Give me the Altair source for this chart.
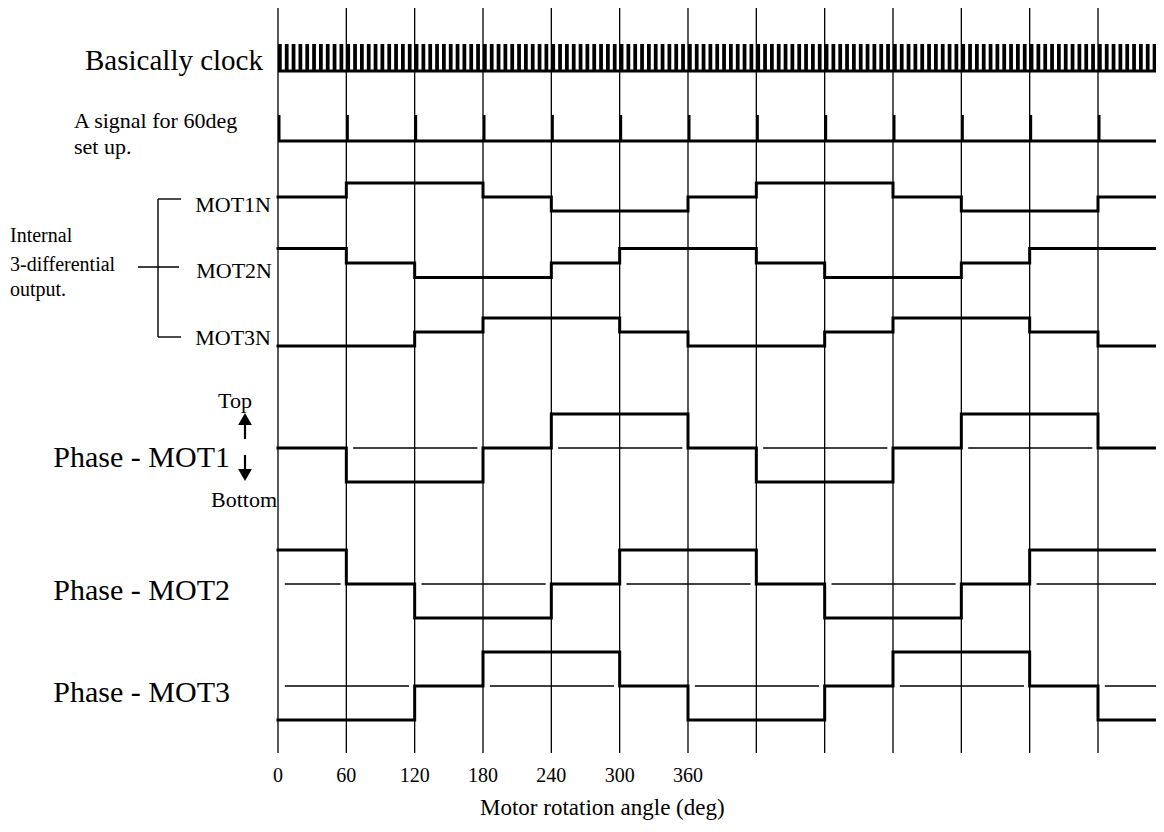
import altair as alt
import pandas as pd

# ---------------- data ----------------
segment_start_deg = [0, 60, 120, 180, 240, 300, 360, 420, 480, 540, 600, 660, 720]
end_deg = 778
# levels per 60-degree segment: 1 = top, 0 = middle, -1 = bottom
mot1n = [0, 1, 1, 0, -1, -1, 0, 1, 1, 0, -1, -1, 0]
mot2n = [1, 0, -1, -1, 0, 1, 1, 0, -1, -1, 0, 1, 1]
mot3n = [-1, -1, 0, 1, 1, 0, -1, -1, 0, 1, 1, 0, -1]
phase_mot1 = [0, -1, -1, 0, 1, 1, 0, -1, -1, 0, 1, 1, 0]
phase_mot2 = [1, 0, -1, -1, 0, 1, 1, 0, -1, -1, 0, 1, 1]
phase_mot3 = [-1, -1, 0, 1, 1, 0, -1, -1, 0, 1, 1, 0, -1]
setup_pulse_deg = [0, 60, 120, 180, 240, 300, 360, 420, 480, 540, 600, 660, 720]
clock_pulses_per_60deg = 10
tick_labels = [0, 60, 120, 180, 240, 300, 360]

# ---------------- layout ----------------
W, H = 1148, 812
K = 820 / 720.0  # px per degree


def deg(px):
    return (px - 278) / K


xs = alt.Scale(domain=[deg(8), deg(8 + W)], nice=False, zero=False)
ys = alt.Scale(domain=[8, 8 + H], reverse=True, nice=False, zero=False)
FONT = "Liberation Serif"

tracks = {
    "MOT1N": (mot1n, 197, 14),
    "MOT2N": (mot2n, 263, 14.5),
    "MOT3N": (mot3n, 332, 14),
    "Phase - MOT1": (phase_mot1, 448, 34),
    "Phase - MOT2": (phase_mot2, 584, 34),
    "Phase - MOT3": (phase_mot3, 686, 34),
}

rows = []
thin = []
for name, (levels, center, amp) in tracks.items():
    for s, lv in zip(segment_start_deg, levels):
        rows.append({"sig": name, "x": s, "y": center - lv * amp})
    rows.append({"sig": name, "x": end_deg, "y": center - levels[-1] * amp})
    if name.startswith("Phase"):
        # thin middle reference line where signal is off-centre
        i = 0
        n = len(levels)
        while i < n:
            if levels[i] != 0:
                j = i
                while j < n and levels[j] != 0:
                    j += 1
                s = segment_start_deg[i]
                e = segment_start_deg[j] if j < n else end_deg + 3
                thin.append({"x": s + 6, "x2": e - 5, "y": center, "y2": center})
                i = j
            else:
                i += 1
sig_df = pd.DataFrame(rows)
thin_df = pd.DataFrame(thin)


def X(f="x"):
    return alt.X(f"{f}:Q", scale=xs, axis=None)


def Y(f="y"):
    return alt.Y(f"{f}:Q", scale=ys, axis=None)


# grid lines
grid_df = pd.DataFrame({"x": segment_start_deg, "y": 6, "y2": 753})
grid = alt.Chart(grid_df).mark_rule(color="black", strokeWidth=1.3).encode(
    x=X(), y=Y(), y2="y2:Q")

# clock
period = 60 / clock_pulses_per_60deg
clk = []
t = 0.0
while t < end_deg:
    clk.append({"x": t, "x2": min(t + period * 0.55, end_deg), "y": 44, "y2": 72})
    t += period
clk_df = pd.DataFrame(clk)
clock = alt.Chart(clk_df).mark_rect(color="black").encode(
    x=X(), x2="x2:Q", y=Y(), y2="y2:Q")

base_df = pd.DataFrame({"x": [0, 0], "x2": [end_deg, end_deg], "y": [71, 141], "y2": [71, 141]})
bases = alt.Chart(base_df).mark_rule(color="black", strokeWidth=2.8).encode(
    x=X(), x2="x2:Q", y=Y(), y2="y2:Q")

sp_df = pd.DataFrame({"x": setup_pulse_deg,
                      "x2": [d + 2.2 for d in setup_pulse_deg],
                      "y": 115, "y2": 141})
setup = alt.Chart(sp_df).mark_rect(color="black").encode(
    x=X(), x2="x2:Q", y=Y(), y2="y2:Q")

signals = alt.Chart(sig_df).mark_line(
    color="black", strokeWidth=3, interpolate="step-after", strokeCap="square"
).encode(x=X(), y=Y(), detail="sig:N")

thin_lines = alt.Chart(thin_df).mark_rule(color="black", strokeWidth=1.3).encode(
    x=X(), x2="x2:Q", y=Y(), y2="y2:Q")

# bracket for internal outputs and Top/Bottom arrow shafts
br_df = pd.DataFrame([
    {"x": deg(158), "x2": deg(158), "y": 199, "y2": 337, "w": 1.4},
    {"x": deg(158), "x2": deg(181), "y": 199, "y2": 199, "w": 1.4},
    {"x": deg(138), "x2": deg(179), "y": 267, "y2": 267, "w": 1.4},
    {"x": deg(158), "x2": deg(181), "y": 337, "y2": 337, "w": 1.4},
    {"x": deg(245), "x2": deg(245), "y": 424, "y2": 439, "w": 2.2},
    {"x": deg(245), "x2": deg(245), "y": 455, "y2": 469, "w": 2.2},
])
bracket = alt.Chart(br_df).mark_rule(color="black").encode(
    x=X(), x2="x2:Q", y=Y(), y2="y2:Q",
    strokeWidth=alt.StrokeWidth("w:Q", scale=None, legend=None))

up_df = pd.DataFrame({"x": [deg(245)], "y": [419]})
down_df = pd.DataFrame({"x": [deg(245)], "y": [475]})
arrow_up = alt.Chart(up_df).mark_point(shape="triangle-up", filled=True, color="black",
                                       size=190, opacity=1).encode(x=X(), y=Y())
arrow_dn = alt.Chart(down_df).mark_point(shape="triangle-down", filled=True, color="black",
                                         size=190, opacity=1).encode(x=X(), y=Y())

texts_right = [
    ("Basically clock", 263, 70, 29),
    ("MOT1N", 271, 212, 22),
    ("MOT2N", 272, 278, 22),
    ("MOT3N", 271, 345, 22),
    ("Phase - MOT1", 230, 467, 30),
    ("Phase - MOT2", 230, 600, 30),
    ("Phase - MOT3", 230, 702, 30),
    ("Bottom", 277, 507, 22),
]
texts_left = [
    ("A signal for 60deg", 74, 128, 22),
    ("set up.", 74, 154, 22),
    ("Internal", 10, 242, 20),
    ("3-differential", 10, 271, 20),
    ("output.", 10, 296, 20),
    ("Top", 218, 408, 22),
    ("Motor rotation angle (deg)", 480, 815, 23),
]


def text_layer(items, align):
    df = pd.DataFrame([{"t": a, "x": deg(b), "y": c, "s": d} for a, b, c, d in items])
    return alt.Chart(df).mark_text(align=align, baseline="alphabetic", font=FONT,
                                   color="black").encode(
        x=X(), y=Y(), text="t:N", size=alt.Size("s:Q", scale=None, legend=None))


tr = text_layer(texts_right, "right")
tl = text_layer(texts_left, "left")

tick_df = pd.DataFrame({"x": tick_labels, "y": 782, "t": [str(v) for v in tick_labels]})
ticks = alt.Chart(tick_df).mark_text(align="center", baseline="alphabetic", font=FONT,
                                     fontSize=20, color="black").encode(
    x=X(), y=Y(), text="t:N")

chart = alt.layer(
    grid, clock, bases, setup, signals, thin_lines, bracket, arrow_up, arrow_dn, tr, tl, ticks
).properties(
    width=W, height=H, autosize=alt.AutoSizeParams(type="none"), padding=0,
    background="white"
).configure_view(stroke=None)

chart.save("out.html", embed_options={"renderer": "svg", "actions": False})
